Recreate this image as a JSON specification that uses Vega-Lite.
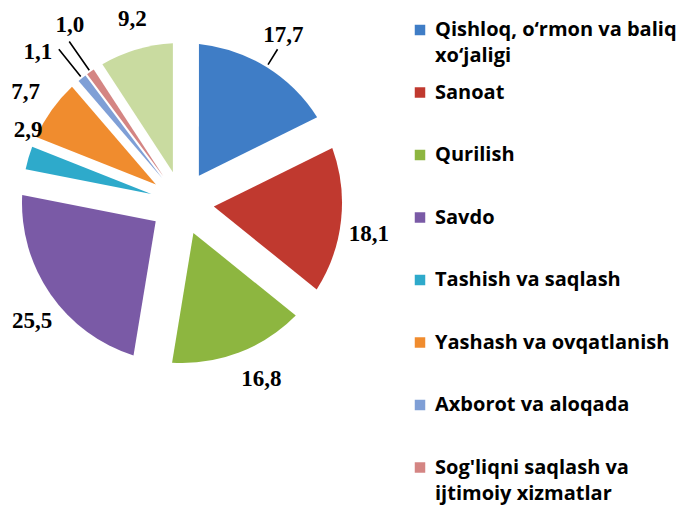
{
  "$schema": "https://vega.github.io/schema/vega-lite/v6.json",
  "width": 364,
  "height": 406,
  "autosize": {"type": "none"},
  "padding": {"left": 0, "top": 0, "right": 336, "bottom": 107},
  "background": "white",
  "config": {
    "view": {"stroke": null},
    "locale": {"number": {"decimal": ",", "thousands": " ", "grouping": [3], "currency": ["", ""]}},
    "style": {"guide-label": {"lineHeight": 26}},
    "text": {"font": "Liberation Serif", "fontSize": 23, "fontWeight": "bold"}
  },
  "data": {
    "values": [
      {"soha": "Qishloq, o‘rmon va baliq xo‘jaligi", "ulush": 17.7, "n": 1},
      {"soha": "Sanoat", "ulush": 18.1, "n": 2},
      {"soha": "Qurilish", "ulush": 16.8, "n": 3},
      {"soha": "Savdo", "ulush": 25.5, "n": 4},
      {"soha": "Tashish va saqlash", "ulush": 2.9, "n": 5},
      {"soha": "Yashash va ovqatlanish", "ulush": 7.7, "n": 6},
      {"soha": "Axborot va aloqada", "ulush": 1.1, "n": 7},
      {"soha": "Sog'liqni saqlash va ijtimoiy xizmatlar", "ulush": 1.0, "n": 8},
      {"soha": "Boshqa xizmatlar", "ulush": 9.2, "n": 9}
    ]
  },
  "transform": [
    {"stack": "ulush", "groupby": [], "sort": [{"field": "n", "order": "ascending"}], "as": ["t0", "t1"]}
  ],
  "encoding": {
    "color": {
      "field": "soha",
      "type": "nominal",
      "scale": {
        "domain": ["Qishloq, o‘rmon va baliq xo‘jaligi", "Sanoat", "Qurilish", "Savdo", "Tashish va saqlash", "Yashash va ovqatlanish", "Axborot va aloqada", "Sog'liqni saqlash va ijtimoiy xizmatlar", "Boshqa xizmatlar"],
        "range": ["#3F7DC6", "#C0392F", "#8DB640", "#7A5AA6", "#2EAACB", "#F08C2E", "#7F9FD6", "#D48583", "#C9DBA0"]
      },
      "legend": {
        "orient": "none",
        "legendX": 410,
        "legendY": 20,
        "title": null,
        "values": ["Qishloq, o‘rmon va baliq xo‘jaligi", "Sanoat", "Qurilish", "Savdo", "Tashish va saqlash", "Yashash va ovqatlanish", "Axborot va aloqada", "Sog'liqni saqlash va ijtimoiy xizmatlar"],
        "symbolType": "square",
        "symbolSize": 110,
        "symbolStrokeWidth": 0,
        "labelFont": "Open Sans",
        "labelFontSize": 20,
        "labelFontWeight": "bold",
        "labelColor": "black",
        "labelOffset": 5,
        "labelLimit": 400,
        "rowPadding": 16.5,
        "gridAlign": "all",
        "padding": 0,
        "labelExpr": "indexof(datum.label, 'Qishloq') == 0 ? ['Qishloq, o‘rmon va baliq', 'xo‘jaligi'] : indexof(datum.label, 'Sog') == 0 ? [\"Sog'liqni saqlash va\", 'ijtimoiy xizmatlar'] : datum.label"
      }
    }
  },
  "layer": [
    {"transform": [{"filter": "datum.n == 1"}], "mark": {"type": "arc", "innerRadius": 32, "outerRadius": 160, "padAngle": 0.2081},
     "encoding": {"theta": {"field": "t0", "type": "quantitative", "scale": {"domain": [0, 100]}}, "theta2": {"field": "t1"}}},
    {"transform": [{"filter": "datum.n == 2"}], "mark": {"type": "arc", "innerRadius": 32, "outerRadius": 160, "padAngle": 0.2123},
     "encoding": {"theta": {"field": "t0", "type": "quantitative", "scale": {"domain": [0, 100]}}, "theta2": {"field": "t1"}}},
    {"transform": [{"filter": "datum.n == 3"}], "mark": {"type": "arc", "innerRadius": 32, "outerRadius": 160, "padAngle": 0.1985},
     "encoding": {"theta": {"field": "t0", "type": "quantitative", "scale": {"domain": [0, 100]}}, "theta2": {"field": "t1"}}},
    {"transform": [{"filter": "datum.n == 4"}], "mark": {"type": "arc", "innerRadius": 32, "outerRadius": 160, "padAngle": 0.2835},
     "encoding": {"theta": {"field": "t0", "type": "quantitative", "scale": {"domain": [0, 100]}}, "theta2": {"field": "t1"}}},
    {"transform": [{"filter": "datum.n == 5"}], "mark": {"type": "arc", "innerRadius": 32, "outerRadius": 160, "padAngle": 0.0358},
     "encoding": {"theta": {"field": "t0", "type": "quantitative", "scale": {"domain": [0, 100]}}, "theta2": {"field": "t1"}}},
    {"transform": [{"filter": "datum.n == 6"}], "mark": {"type": "arc", "innerRadius": 32, "outerRadius": 160, "padAngle": 0.0943},
     "encoding": {"theta": {"field": "t0", "type": "quantitative", "scale": {"domain": [0, 100]}}, "theta2": {"field": "t1"}}},
    {"transform": [{"filter": "datum.n == 7"}], "mark": {"type": "arc", "innerRadius": 32, "outerRadius": 160, "padAngle": 0.0136},
     "encoding": {"theta": {"field": "t0", "type": "quantitative", "scale": {"domain": [0, 100]}}, "theta2": {"field": "t1"}}},
    {"transform": [{"filter": "datum.n == 8"}], "mark": {"type": "arc", "innerRadius": 32, "outerRadius": 160, "padAngle": 0.01236},
     "encoding": {"theta": {"field": "t0", "type": "quantitative", "scale": {"domain": [0, 100]}}, "theta2": {"field": "t1"}}},
    {"transform": [{"filter": "datum.n == 9"}], "mark": {"type": "arc", "innerRadius": 32, "outerRadius": 160, "padAngle": 0.1122},
     "encoding": {"theta": {"field": "t0", "type": "quantitative", "scale": {"domain": [0, 100]}}, "theta2": {"field": "t1"}}},
    {"transform": [{"filter": "datum.n == 1"}], "mark": {"type": "arc", "filled": false, "innerRadius": 163, "outerRadius": 181, "padAngle": 3, "strokeWidth": 1.6},
     "encoding": {"theta": {"field": "t0", "type": "quantitative", "scale": {"domain": [0, 100]}}, "theta2": {"field": "t1"}, "color": {"value": "black"}}},
    {"transform": [{"filter": "datum.n == 7 || datum.n == 8"}], "mark": {"type": "arc", "filled": false, "innerRadius": 162, "outerRadius": 197, "padAngle": 3, "strokeWidth": 1.6},
     "encoding": {"theta": {"field": "t0", "type": "quantitative", "scale": {"domain": [0, 100]}}, "theta2": {"field": "t1"}, "color": {"value": "black"}}},
    {"mark": {"type": "text", "radius": 192, "dx": 0, "dy": -5},
     "encoding": {"theta": {"field": "ulush", "type": "quantitative", "stack": true, "scale": {"domain": [0, 100]}}, "order": {"field": "n", "type": "quantitative"},
       "text": {"condition": {"test": "datum.n != 1", "value": ""}, "field": "ulush", "type": "quantitative", "format": ".1f"}, "color": {"value": "black"}}},
    {"mark": {"type": "text", "radius": 192, "dx": -4, "dy": 10},
     "encoding": {"theta": {"field": "ulush", "type": "quantitative", "stack": true, "scale": {"domain": [0, 100]}}, "order": {"field": "n", "type": "quantitative"},
       "text": {"condition": {"test": "datum.n != 2", "value": ""}, "field": "ulush", "type": "quantitative", "format": ".1f"}, "color": {"value": "black"}}},
    {"mark": {"type": "text", "radius": 192, "dx": 11, "dy": -3},
     "encoding": {"theta": {"field": "ulush", "type": "quantitative", "stack": true, "scale": {"domain": [0, 100]}}, "order": {"field": "n", "type": "quantitative"},
       "text": {"condition": {"test": "datum.n != 3", "value": ""}, "field": "ulush", "type": "quantitative", "format": ".1f"}, "color": {"value": "black"}}},
    {"mark": {"type": "text", "radius": 192, "dx": 8, "dy": 9},
     "encoding": {"theta": {"field": "ulush", "type": "quantitative", "stack": true, "scale": {"domain": [0, 100]}}, "order": {"field": "n", "type": "quantitative"},
       "text": {"condition": {"test": "datum.n != 4", "value": ""}, "field": "ulush", "type": "quantitative", "format": ".1f"}, "color": {"value": "black"}}},
    {"mark": {"type": "text", "radius": 175, "dx": 14, "dy": -24},
     "encoding": {"theta": {"field": "ulush", "type": "quantitative", "stack": true, "scale": {"domain": [0, 100]}}, "order": {"field": "n", "type": "quantitative"},
       "text": {"condition": {"test": "datum.n != 5", "value": ""}, "field": "ulush", "type": "quantitative", "format": ".1f"}, "color": {"value": "black"}}},
    {"mark": {"type": "text", "radius": 192},
     "encoding": {"theta": {"field": "ulush", "type": "quantitative", "stack": true, "scale": {"domain": [0, 100]}}, "order": {"field": "n", "type": "quantitative"},
       "text": {"condition": {"test": "datum.n != 6", "value": ""}, "field": "ulush", "type": "quantitative", "format": ".1f"}, "color": {"value": "black"}}},
    {"mark": {"type": "text", "radius": 200, "dx": -19, "dy": 5},
     "encoding": {"theta": {"field": "ulush", "type": "quantitative", "stack": true, "scale": {"domain": [0, 100]}}, "order": {"field": "n", "type": "quantitative"},
       "text": {"condition": {"test": "datum.n != 7", "value": ""}, "field": "ulush", "type": "quantitative", "format": ".1f"}, "color": {"value": "black"}}},
    {"mark": {"type": "text", "radius": 210, "dx": 8, "dy": -6},
     "encoding": {"theta": {"field": "ulush", "type": "quantitative", "stack": true, "scale": {"domain": [0, 100]}}, "order": {"field": "n", "type": "quantitative"},
       "text": {"condition": {"test": "datum.n != 8", "value": ""}, "field": "ulush", "type": "quantitative", "format": ".1f"}, "color": {"value": "black"}}},
    {"mark": {"type": "text", "radius": 192, "dx": 5},
     "encoding": {"theta": {"field": "ulush", "type": "quantitative", "stack": true, "scale": {"domain": [0, 100]}}, "order": {"field": "n", "type": "quantitative"},
       "text": {"condition": {"test": "datum.n != 9", "value": ""}, "field": "ulush", "type": "quantitative", "format": ".1f"}, "color": {"value": "black"}}}
  ]
}
